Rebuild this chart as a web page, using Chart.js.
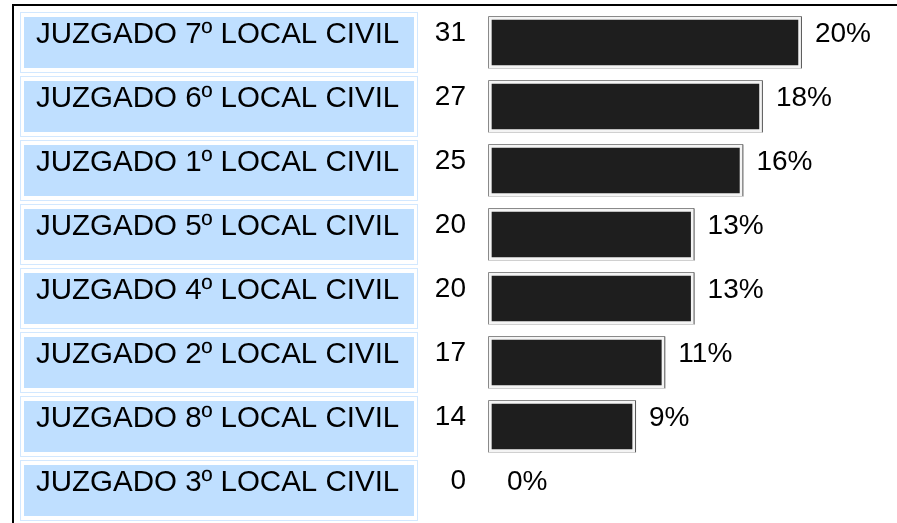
<!DOCTYPE html>
<html>
<head>
<meta charset="utf-8">
<script src="https://cdn.jsdelivr.net/npm/chart.js@4.4.1/dist/chart.umd.min.js"></script>
<style>
  body { margin: 0; background: #fff; }
  #wrap { width: 897px; height: 523px; }
</style>
</head>
<body>
<div id="wrap"><canvas id="myChart"></canvas></div>
<script>
const juzgados = [
  "JUZGADO 7º LOCAL CIVIL",
  "JUZGADO 6º LOCAL CIVIL",
  "JUZGADO 1º LOCAL CIVIL",
  "JUZGADO 5º LOCAL CIVIL",
  "JUZGADO 4º LOCAL CIVIL",
  "JUZGADO 2º LOCAL CIVIL",
  "JUZGADO 8º LOCAL CIVIL",
  "JUZGADO 3º LOCAL CIVIL",
];
const cantidades = [31, 27, 25, 20, 20, 17, 14, 0];
const porcentajes = [20, 18, 16, 13, 13, 11, 9, 0];

const FONT = "28px 'Liberation Sans', Arial, sans-serif";

// black frame on the top and left, plus the blue label cells
const tablePlugin = {
  id: "tablePlugin",
  beforeDraw(chart) {
    const { ctx } = chart;
    const y = chart.scales.y;
    ctx.save();
    ctx.fillStyle = "#000";
    ctx.fillRect(12, 4, 885, 2);
    ctx.fillRect(12, 4, 2, 519);
    juzgados.forEach((_, i) => {
      const cy = y.getPixelForValue(i);
      ctx.strokeStyle = "#d2e8ff";
      ctx.lineWidth = 1;
      ctx.strokeRect(20.5, cy - 30, 397, 60);
      ctx.fillStyle = "#bfdfff";
      ctx.fillRect(24, cy - 25.5, 390, 51);
    });
    ctx.restore();
  },
  afterDatasetsDraw(chart) {
    const { ctx } = chart;
    const meta = chart.getDatasetMeta(0);
    ctx.save();
    ctx.font = FONT;
    ctx.fillStyle = "#000";
    ctx.textBaseline = "middle";
    meta.data.forEach((bar, i) => {
      const cy = bar.y;
      // count column
      ctx.textAlign = "right";
      ctx.fillText(String(cantidades[i]), 466, cy - 9);
      // outer bevel line of the bar
      if (cantidades[i] > 0) {
        const l = bar.base + 0.5, r = bar.x - 0.5;
        const t = cy - bar.height / 2 + 0.5, b = cy + bar.height / 2 - 0.5;
        ctx.lineWidth = 1;
        ctx.strokeStyle = "#8a8a8a";
        ctx.beginPath(); ctx.moveTo(l, b); ctx.lineTo(l, t); ctx.lineTo(r, t); ctx.stroke();
        ctx.strokeStyle = "#555";
        ctx.beginPath(); ctx.moveTo(r, t); ctx.lineTo(r, b); ctx.stroke();
        ctx.strokeStyle = "#d0d0d0";
        ctx.beginPath(); ctx.moveTo(l, b); ctx.lineTo(r, b); ctx.stroke();
      }
      // percentage
      ctx.textAlign = "left";
      const px = cantidades[i] > 0 ? bar.x + 13 : bar.base + 19;
      ctx.fillText(porcentajes[i] + "%", px, cy - 8);
    });
    ctx.restore();
  },
};

new Chart(document.getElementById("myChart"), {
  type: "bar",
  data: {
    labels: juzgados,
    datasets: [
      {
        data: cantidades,
        base: -1.168,
        barThickness: 53,
        borderSkipped: false,
        backgroundColor: (c) => (cantidades[c.dataIndex] ? "#1e1e1e" : "rgba(0,0,0,0)"),
        borderColor: (c) => (cantidades[c.dataIndex] ? "#f4f4f4" : "rgba(0,0,0,0)"),
        borderWidth: 4,
      },
    ],
  },
  options: {
    indexAxis: "y",
    responsive: true,
    maintainAspectRatio: false,
    animation: false,
    layout: { padding: { left: 36, right: 0, top: 10.5, bottom: 0.5 } },
    plugins: {
      legend: { display: false },
      tooltip: { enabled: false },
    },
    scales: {
      x: { display: false, min: -1.168, max: 40.74 },
      y: {
        grid: { display: false },
        border: { display: false },
        afterFit: (scale) => {
          scale.width = 452;
          scale.paddingTop = 0;
          scale.paddingBottom = 0;
        },
        ticks: {
          crossAlign: "far",
          autoSkip: false,
          padding: 0,
          labelOffset: -7.5,
          color: "#000",
          font: { family: "'Liberation Sans', Arial, sans-serif", size: 29.5 },
        },
      },
    },
  },
  plugins: [tablePlugin],
});
</script>
</body>
</html>
